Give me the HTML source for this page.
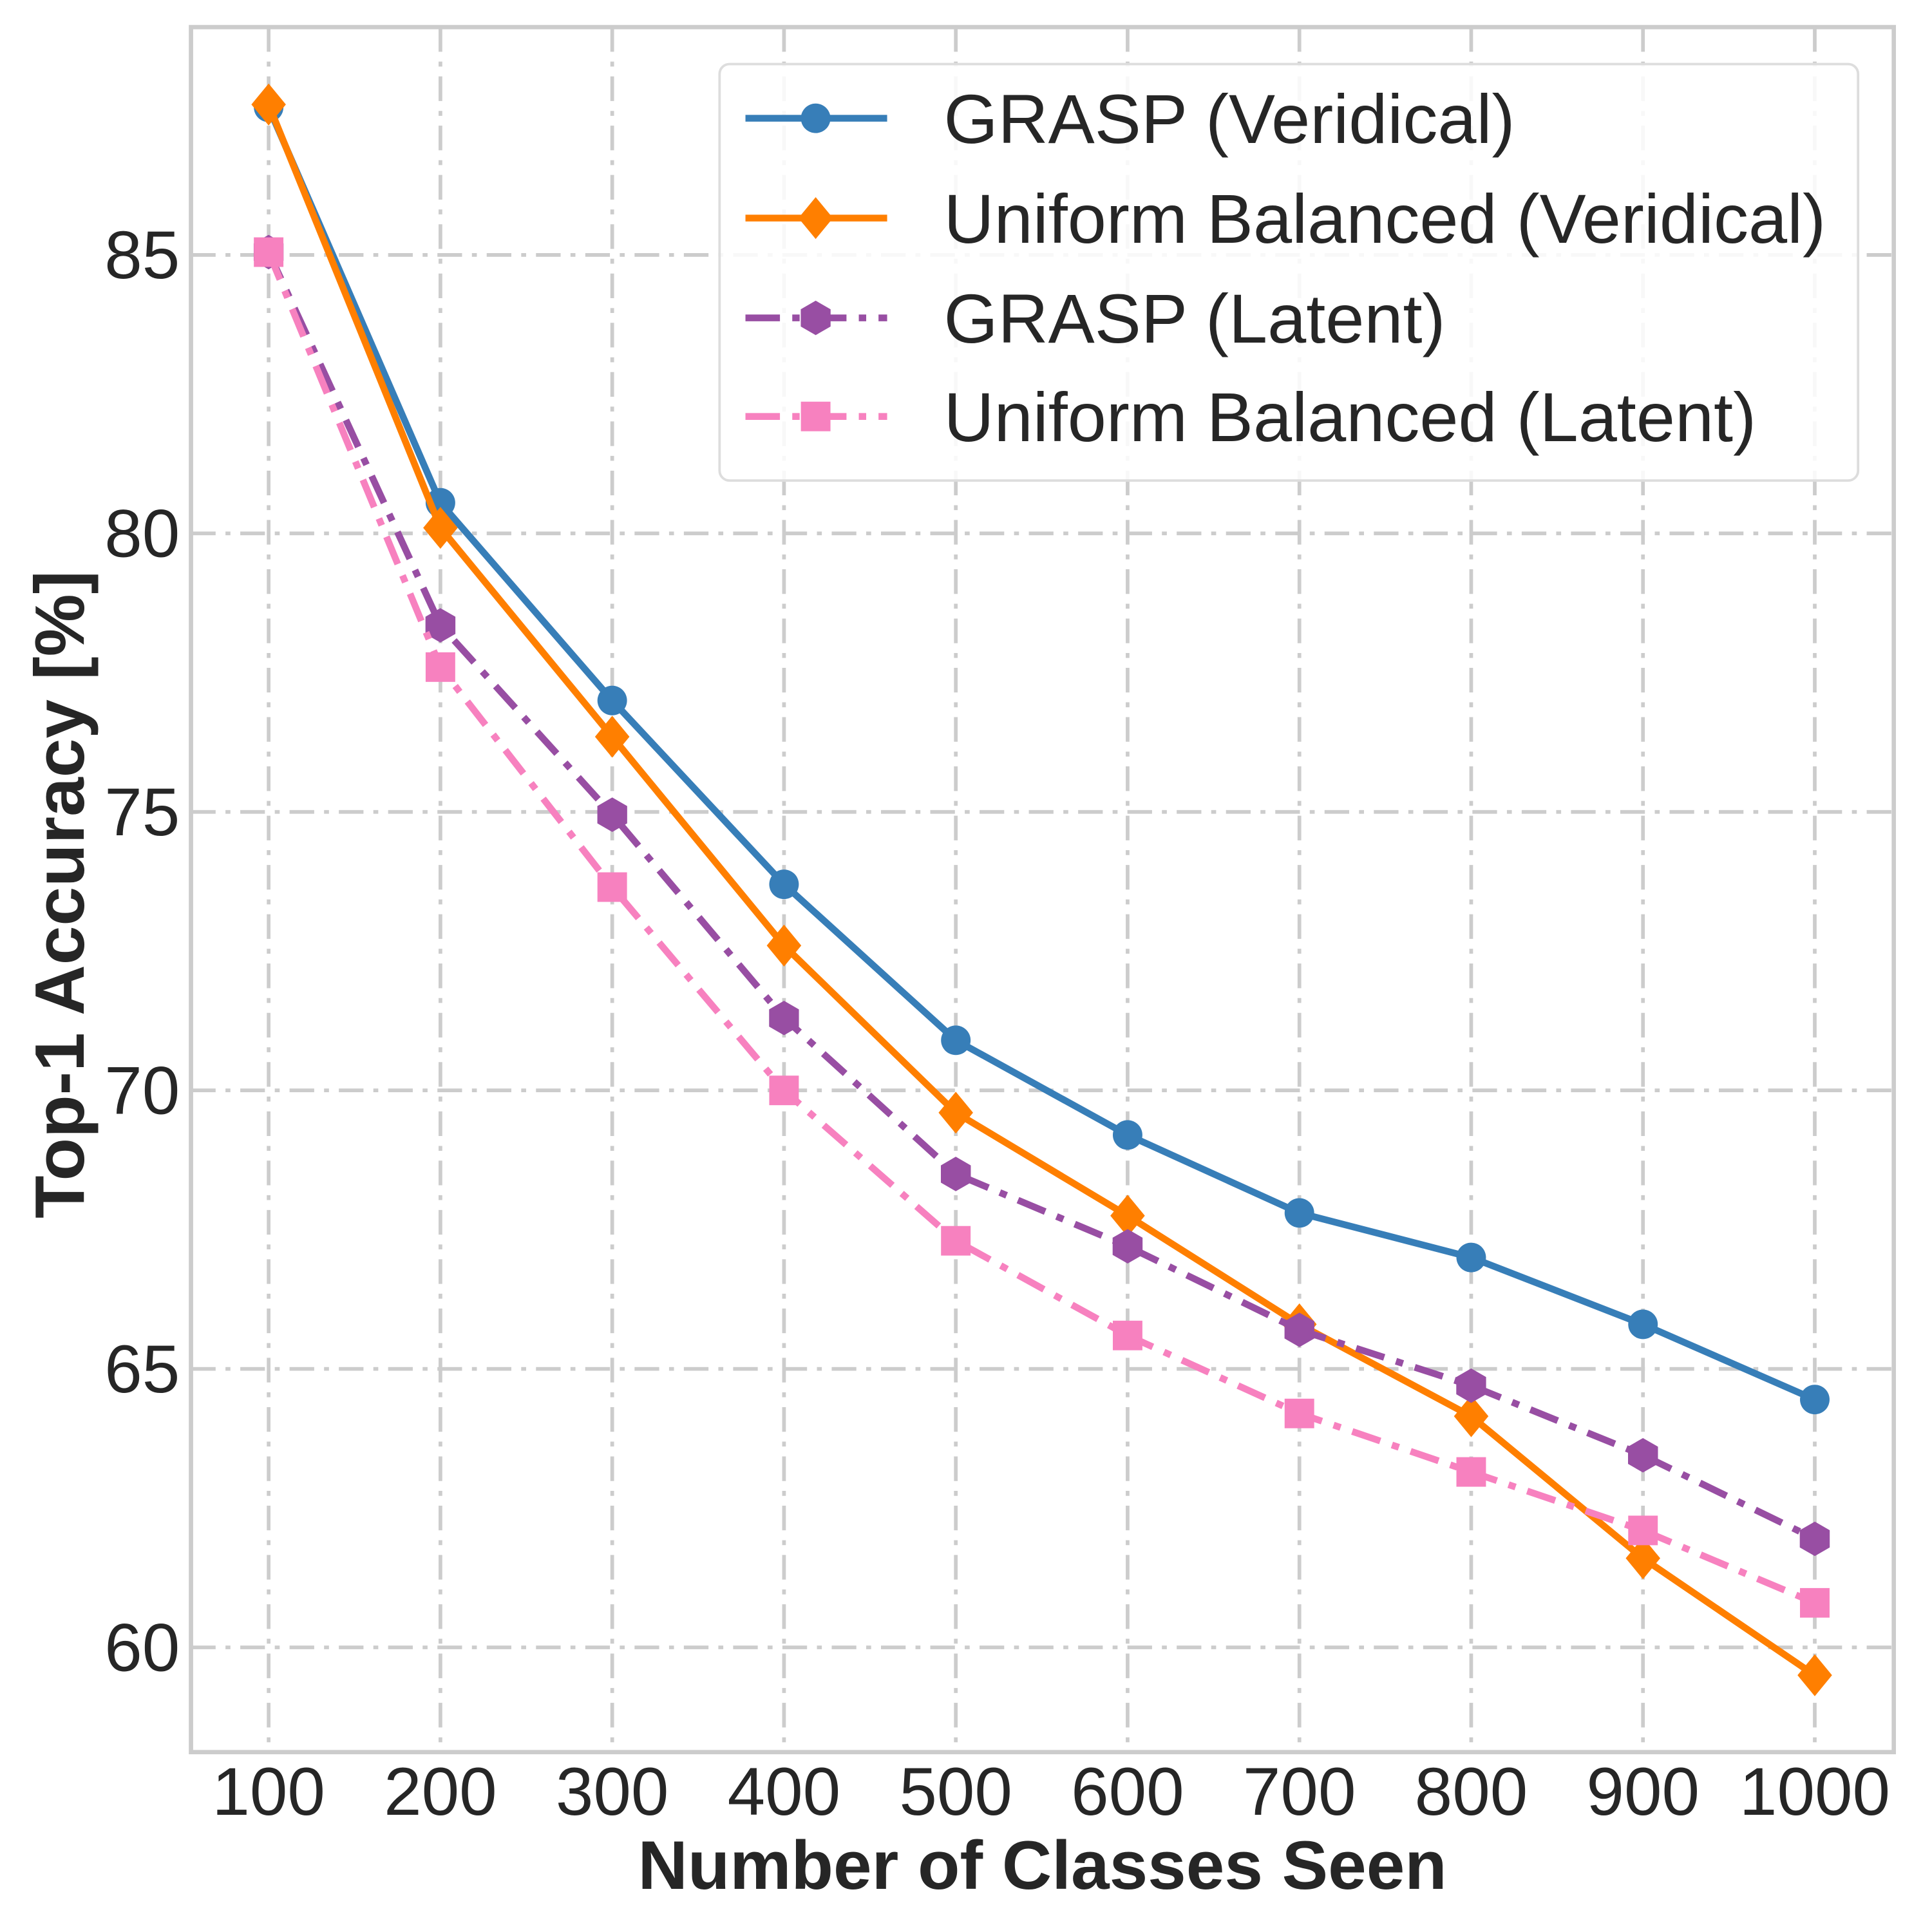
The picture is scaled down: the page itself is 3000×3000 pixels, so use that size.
<!DOCTYPE html>
<html><head><meta charset="utf-8">
<style>
html,body{margin:0;padding:0;background:#fff;}
svg{display:block;}
text{font-family:"Liberation Sans",sans-serif;fill:#262626;}
</style></head>
<body>
<svg id="chart" width="3000" height="3000" viewBox="0 0 1568 1568" xmlns="http://www.w3.org/2000/svg">
<rect x="0" y="0" width="1568" height="1568" fill="#fff"/>
<g id="grid"></g>
<g id="series"></g>
<rect x="155" y="22" width="1382" height="1400" fill="none" stroke="#cccccc" stroke-width="3.5"/>
<g id="ticks"></g>
<text x="846" y="1533" text-anchor="middle" font-size="56" font-weight="bold">Number of Classes Seen</text>
<text transform="translate(68,726) rotate(-90)" text-anchor="middle" font-size="57" font-weight="bold">Top-1 Accuracy [%]</text>
<g id="legend">
<rect x="584" y="52" width="924" height="338" rx="8" fill="#fff" fill-opacity="0.85" stroke="#dddddd" stroke-width="2"/>
</g>
</svg>
<script>
const categories = [100,200,300,400,500,600,700,800,900,1000];
const graspVeridical = [87.65,80.55,77.0,73.7,70.9,69.2,67.8,67.0,65.8,64.45];
const uniformVeridical = [87.7,80.1,76.35,72.6,69.6,67.75,65.8,64.15,61.6,59.5];
const graspLatent = [85.05,78.35,74.95,71.3,68.5,67.2,65.7,64.7,63.45,61.95];
const uniformLatent = [85.05,77.6,73.65,70.0,67.3,65.6,64.2,63.15,62.1,60.8];
const xTicks = [100,200,300,400,500,600,700,800,900,1000];
const yTicks = [60,65,70,75,80,85];
const seriesNames = ["GRASP (Veridical)","Uniform Balanced (Veridical)","GRASP (Latent)","Uniform Balanced (Latent)"];

const NS="http://www.w3.org/2000/svg";
const L=155,R=1537,T=22,B=1422;
const xMin=54.8,xMax=1046,yMin=58.12,yMax=89.09;
function sx(v){return L+(v-xMin)/(xMax-xMin)*(R-L);}
function sy(v){return B-(v-yMin)/(yMax-yMin)*(B-T);}
function mk(tag,attrs,parent){const e=document.createElementNS(NS,tag);for(const k in attrs)e.setAttribute(k,attrs[k]);parent.appendChild(e);return e;}

const grid=document.getElementById('grid'), ticks=document.getElementById('ticks');
xTicks.forEach(v=>{
  const l=mk('line',{x1:sx(v),x2:sx(v),y1:T,y2:B,stroke:'#cccccc','stroke-width':3,'stroke-dasharray':'20 8 4 8'},grid);
  
  
  const t=mk('text',{x:sx(v),y:1473,'text-anchor':'middle','font-size':55},ticks);
  t.textContent=v;
  
  
});
yTicks.forEach(v=>{
  const l=mk('line',{x1:L,x2:R,y1:sy(v),y2:sy(v),stroke:'#cccccc','stroke-width':3,'stroke-dasharray':'20 8 4 8'},grid);
  
  
  const t=mk('text',{x:146,y:sy(v)+19,'text-anchor':'end','font-size':55},ticks);
  t.textContent=v;
  
  
});

function marker(type,cx,cy,color,parent){
  let e;
  if(type==='circle') e=mk('circle',{cx:cx,cy:cy,r:12,fill:color},parent);
  else if(type==='diamond') e=mk('polygon',{points:`${cx},${cy-17} ${cx+14},${cy} ${cx},${cy+17} ${cx-14},${cy}`,fill:color},parent);
  else if(type==='hex'){let p=[];for(let i=0;i<6;i++){const a=Math.PI/3*i+Math.PI/6;p.push((cx+14*Math.cos(a)).toFixed(1)+','+(cy+14*Math.sin(a)).toFixed(1));}
    e=mk('polygon',{points:p.join(' '),fill:color},parent);}
  else e=mk('rect',{x:cx-12,y:cy-12,width:24,height:24,fill:color},parent);
  return e;
}

const defs=[
  {data:graspVeridical,color:'#377eb8',dash:'',m:'circle'},
  {data:uniformVeridical,color:'#ff7f00',dash:'',m:'diamond'},
  {data:graspLatent,color:'#984ea3',dash:'24 10 6 10',m:'hex'},
  {data:uniformLatent,color:'#f781bf',dash:'24 10 6 10',m:'square'}
];
const sg=document.getElementById('series');
defs.forEach((d,i)=>{
  const g=mk('g',{},sg);
  
  
  const pts=categories.map((c,j)=>sx(c)+','+sy(d.data[j])).join(' ');
  const pl=mk('polyline',{points:pts,fill:'none',stroke:d.color,'stroke-width':5.5,'stroke-linejoin':'round','stroke-dasharray':d.dash||'none'},g);
  
  
  categories.forEach((c,j)=>{
    const m=marker(d.m,sx(c),sy(d.data[j]),d.color,g);
    
    
  });
});

const lg=document.getElementById('legend');
const rows=[96,177,258,338];
defs.forEach((d,i)=>{
  const ln=mk('line',{x1:605,x2:720,y1:rows[i],y2:rows[i],stroke:d.color,'stroke-width':5.5,'stroke-dasharray':d.dash?'28 10 6 10':'none'},lg);
  
  
  const m=marker(d.m,662,rows[i],d.color,lg);
  
  
  const t=mk('text',{x:766,y:rows[i]+20,'font-size':56.5},lg);
  t.textContent=seriesNames[i];
  
  
});
</script>
</body></html>
